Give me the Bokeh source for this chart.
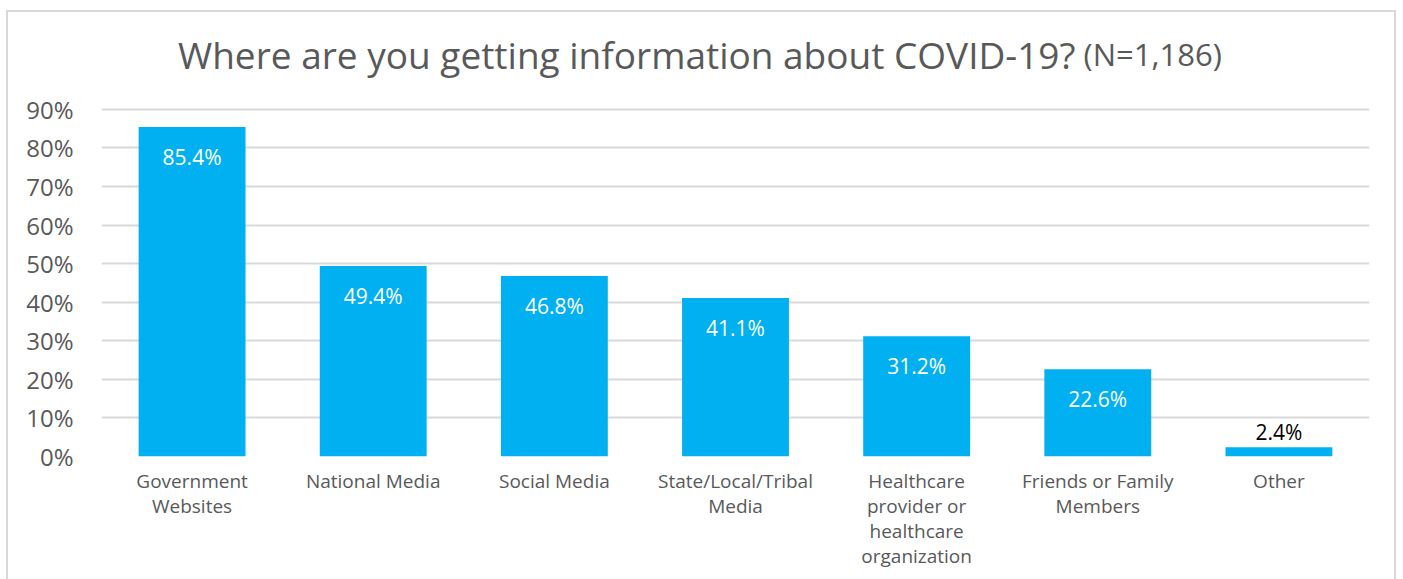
from bokeh.plotting import figure
from bokeh.models import ColumnDataSource, Range1d, FixedTicker, NumeralTickFormatter, Label, LabelSet, FactorRange
from bokeh.core.properties import value
from bokeh.embed import file_html
from bokeh.resources import INLINE

categories = ["Government\nWebsites", "National Media", "Social Media", "State/Local/Tribal\nMedia",
              "Healthcare\nprovider or\nhealthcare\norganization", "Friends or Family\nMembers", "Other"]
values = [0.854, 0.494, 0.468, 0.411, 0.312, 0.226, 0.024]
value_labels = ["85.4%", "49.4%", "46.8%", "41.1%", "31.2%", "22.6%", "2.4%"]
y_ticks = [0, 0.1, 0.2, 0.3, 0.4, 0.5, 0.6, 0.7, 0.8, 0.9]
title_main = "Where are you getting information about COVID-19?"
title_n = "(N=1,186)"

FONT = "Open Sans"
GREY = "#595959"

inside = [v > 0.1 for v in values]
src = ColumnDataSource(dict(
    cat=categories, val=values, lab=value_labels,
    col=["white" if i else "black" for i in inside],
    yoff=[-30 if i else 15 for i in inside],
))

# frame spans above the 90% line so the title can sit inside it
Y_TOP = 1.125

p = figure(width=1390, height=571, x_range=FactorRange(factors=categories), y_range=Range1d(0, Y_TOP),
           output_backend="svg", toolbar_location=None, title=None)
p.margin = (10, 0, 0, 6)
p.min_border_left = 93
p.min_border_right = 29
p.min_border_top = 10
p.min_border_bottom = 127
p.outline_line_color = None
p.styles = {"border": "2px solid #d9d9d9", "box-sizing": "border-box"}

p.vbar(x="cat", top="val", width=0.59, source=src, fill_color="#00B0F0", line_color=None)

p.xgrid.grid_line_color = None
p.ygrid.grid_line_color = "#d9d9d9"
p.ygrid.grid_line_width = 2

p.yaxis.ticker = FixedTicker(ticks=y_ticks)
p.yaxis.formatter = NumeralTickFormatter(format="0%")
for ax in (p.xaxis[0], p.yaxis[0]):
    ax.axis_line_color = None
    ax.major_tick_line_color = None
    ax.minor_tick_line_color = None
    ax.major_label_text_color = GREY
    ax.major_label_text_font = FONT
p.yaxis.major_label_text_font_size = "24px"
p.yaxis.major_label_standoff = 22
p.xaxis.major_label_text_font_size = "19px"
p.xaxis.major_label_standoff = 5
p.xaxis.major_label_text_line_height = 0.97

labels = LabelSet(x="cat", y="val", text="lab", source=src, text_color="col", y_offset="yoff",
                  text_align="center", text_baseline="middle", text_font=value(FONT),
                  text_font_size=value("21px"))
p.add_layout(labels)

p.add_layout(Label(x=0, y=0.9, x_offset=974, y_offset=55, text=title_main, text_align="right",
                   text_baseline="alphabetic", text_font=FONT, text_font_size="37px", text_color=GREY))
p.add_layout(Label(x=0, y=0.9, x_offset=982, y_offset=55, text=title_n, text_align="left",
                   text_baseline="alphabetic", text_font=FONT, text_font_size="31px", text_color=GREY))

open("out.html", "w").write(file_html(p, INLINE))
